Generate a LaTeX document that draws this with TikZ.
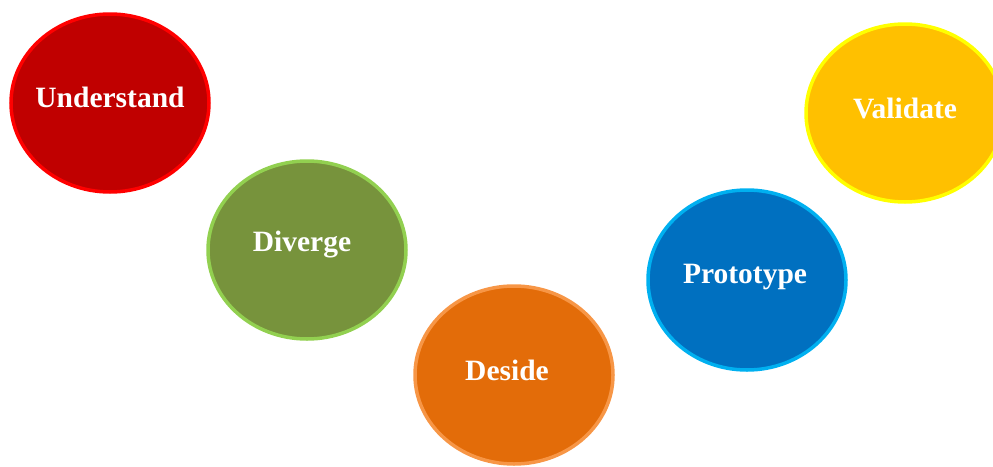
\documentclass[tikz,border=0pt]{standalone}
\usepackage{fontspec}
\setmainfont{Liberation Serif}
\usetikzlibrary{shapes.geometric}
\definecolor{uFill}{HTML}{C00000}\definecolor{uLine}{HTML}{FF0000}
\definecolor{dFill}{HTML}{77933C}\definecolor{dLine}{HTML}{92D050}
\definecolor{sFill}{HTML}{E36C09}\definecolor{sLine}{HTML}{F79646}
\definecolor{pFill}{HTML}{0070C0}\definecolor{pLine}{HTML}{00B0F0}
\definecolor{vFill}{HTML}{FFC000}\definecolor{vLine}{HTML}{FFFF00}
\tikzset{
  blob/.style={ellipse, inner sep=0pt, line width=3.5pt, minimum width=198pt, minimum height=178pt},
  lbl/.style={text=white, font=\fontsize{29.5}{32}\selectfont\bfseries, inner sep=0pt}
}
\begin{document}
\begin{tikzpicture}[x=1pt,y=-1pt]
\useasboundingbox (0,0) rectangle (993,466);
\clip (0,0) rectangle (993,466);
\node[blob, fill=uFill, draw=uLine] (und) at (110,103) {};
\node[blob, fill=dFill, draw=dLine] (div) at (307,250) {};
\node[blob, fill=sFill, draw=sLine] (des) at (514,375) {};
\node[blob, fill=pFill, draw=pLine, minimum height=180pt] (pro) at (747,280) {};
\node[blob, fill=vFill, draw=vLine] (val) at (905,113) {};
\node[lbl] (tund) at (110,97) {Understand};
\node[lbl] (tdiv) at (302,245) {Diverge};
\node[lbl] (tdes) at (507,370) {Deside};
\node[lbl] (tpro) at (745,277) {Prototype};
\node[lbl] (tval) at (905,108) {Validate};
\end{tikzpicture}
\end{document}
